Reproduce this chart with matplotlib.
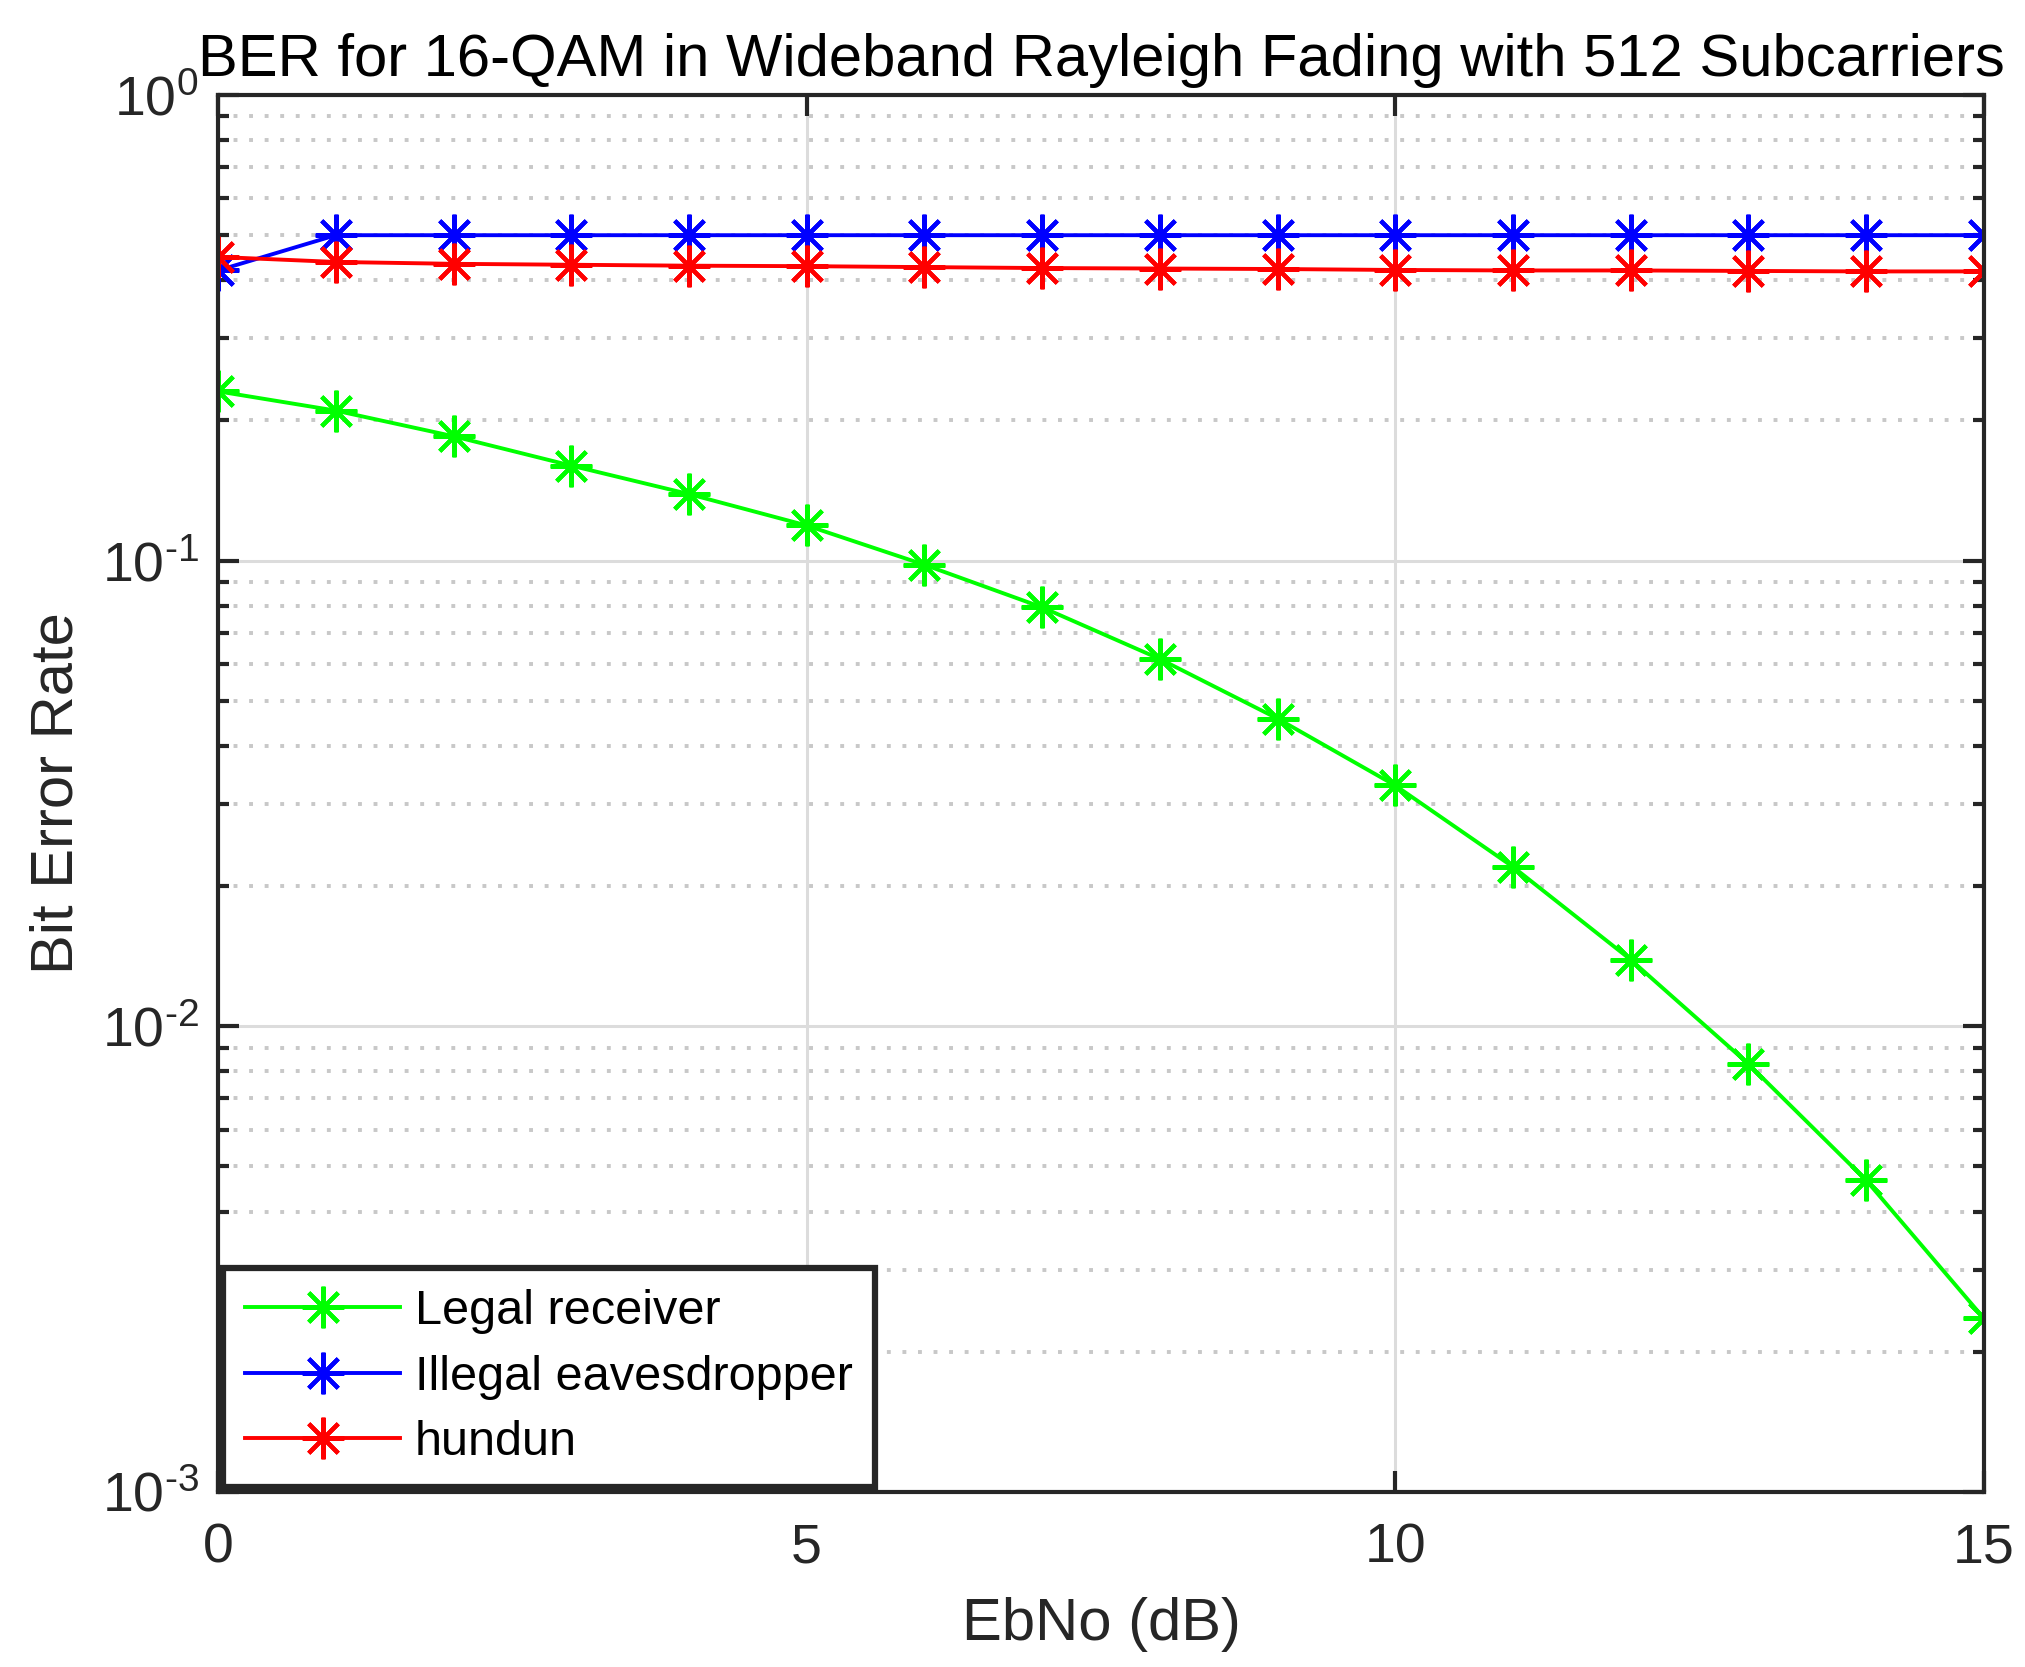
import matplotlib
matplotlib.use("Agg")
import matplotlib.pyplot as plt
import numpy as np
from matplotlib.ticker import LogLocator, NullFormatter, FuncFormatter, MultipleLocator
from matplotlib.markers import MarkerStyle

plt.rcParams['font.family'] = ['Liberation Sans', 'DejaVu Sans']
plt.rcParams['mathtext.fontset'] = 'custom'
plt.rcParams['mathtext.rm'] = 'Liberation Sans'
plt.rcParams['mathtext.it'] = 'Liberation Sans:italic'
plt.rcParams['mathtext.bf'] = 'Liberation Sans:bold'
plt.rcParams['axes.unicode_minus'] = False

ebno = list(range(16))
legal = [0.231, 0.210, 0.185, 0.160, 0.139, 0.119, 0.098, 0.0794, 0.0615,
         0.0458, 0.0329, 0.0220, 0.0139, 0.0083, 0.00467, 0.00236]
eaves = [0.420, 0.500, 0.500, 0.500, 0.500, 0.500, 0.500, 0.500, 0.500,
         0.500, 0.500, 0.500, 0.500, 0.500, 0.500, 0.500]
hundun = [0.449, 0.438, 0.434, 0.432, 0.430, 0.429, 0.427, 0.425, 0.424,
          0.423, 0.421, 0.420, 0.420, 0.419, 0.418, 0.418]

axcol = '#262626'
fig = plt.figure(figsize=(20.25, 16.67), dpi=100)
ax = fig.add_axes([0.1077, 0.105, 0.872, 0.838])

# matlab style '*' = plus + cross
star = MarkerStyle((8, 2, 0))
kw = dict(marker=star, markersize=30, markeredgewidth=3.0, linewidth=2.8)
ax.semilogy(ebno, legal, color='#00ff00', label='Legal receiver', **kw)
ax.semilogy(ebno, eaves, color='#0000ff', label='Illegal eavesdropper', **kw)
ax.semilogy(ebno, hundun, color='#ff0000', label='hundun', **kw)


def pow10(v, pos):
    e = int(round(np.log10(v)))
    return r'$10^{\text{%d}}$' % e


ax.set_xlim(0, 15)
ax.set_ylim(1e-3, 1)
ax.xaxis.set_major_locator(MultipleLocator(5))
ax.yaxis.set_major_locator(LogLocator(base=10))
ax.yaxis.set_minor_locator(LogLocator(base=10, subs=np.arange(2, 10)))
ax.yaxis.set_minor_formatter(NullFormatter())
ax.yaxis.set_major_formatter(FuncFormatter(pow10))

ax.grid(True, which='major', axis='both', color='#dcdcdc', linestyle='-', linewidth=2.2)
ax.grid(True, which='minor', axis='y', color='#c8c8c8', linestyle=(0, (1, 3)), linewidth=2.8)
ax.set_axisbelow(True)

for s in ax.spines.values():
    s.set_color(axcol)
    s.set_linewidth(3)
ax.tick_params(which='both', direction='in', top=True, right=True, colors=axcol,
               width=3, labelsize=40, pad=14)
ax.tick_params(axis='x', pad=22)
ax.tick_params(which='major', length=15)
ax.tick_params(which='minor', length=8)

ax.set_title('BER for 16-QAM in Wideband Rayleigh Fading with 512 Subcarriers',
             fontsize=43, pad=14)
ax.set_xlabel('EbNo (dB)', fontsize=43, color=axcol, labelpad=16)
ax.set_ylabel('Bit Error Rate', fontsize=43, color=axcol, labelpad=12)

leg = ax.legend(loc='lower left', fontsize=35, frameon=True, fancybox=False,
                borderaxespad=0.1, handlelength=3.2, handletextpad=0.3,
                labelspacing=0.42, borderpad=0.45)
leg.get_frame().set_edgecolor(axcol)
leg.get_frame().set_linewidth(4.5)
leg.get_frame().set_alpha(1)

fig.savefig('out.png', dpi=100)
